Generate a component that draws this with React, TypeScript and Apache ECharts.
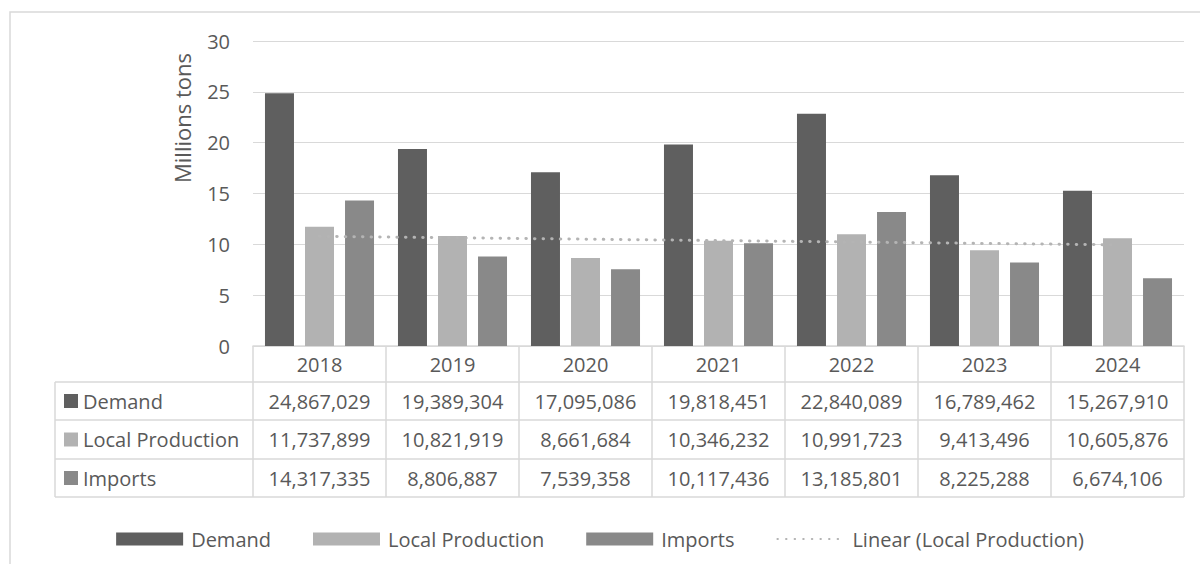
import React, { useEffect, useRef } from 'react';
import * as echarts from 'echarts';

const years = ['2018', '2019', '2020', '2021', '2022', '2023', '2024'];
const demand = [24867029, 19389304, 17095086, 19818451, 22840089, 16789462, 15267910];
const localProduction = [11737899, 10821919, 8661684, 10346232, 10991723, 9413496, 10605876];
const imports = [14317335, 8806887, 7539358, 10117436, 13185801, 8225288, 6674106];
const seriesNames = ['Demand', 'Local Production', 'Imports'];
const trendName = 'Linear (Local Production)';
const yAxisTitle = 'Millions tons';
const yMin = 0;
const yMax = 30;
const yInterval = 5;

const colors = ['#5f5f5f', '#b2b2b2', '#898989'];
const textColor = '#595959';
const lineColor = '#d9d9d9';
const font = "'Open Sans', sans-serif";

function linearTrend(values: number[]): number[] {
  const n = values.length;
  const xs = values.map((_, i) => i + 1);
  const mx = xs.reduce((a, b) => a + b, 0) / n;
  const my = values.reduce((a, b) => a + b, 0) / n;
  let sxy = 0;
  let sxx = 0;
  for (let i = 0; i < n; i++) {
    sxy += (xs[i] - mx) * (values[i] - my);
    sxx += (xs[i] - mx) * (xs[i] - mx);
  }
  const slope = sxy / sxx;
  return xs.map((x) => my + slope * (x - mx));
}

const fmt = (v: number) => v.toLocaleString('en-US');
const toM = (v: number) => v / 1e6;

export default function App() {
  const ref = useRef<HTMLDivElement>(null);

  useEffect(() => {
    if (!ref.current) return;
    const chart = echarts.init(ref.current, undefined, { renderer: 'svg' });

    const W = 1200;
    const H = 564;
    const gridLeft = 253;
    const gridRightX = 1184;
    const gridTop = 41;
    const axisY = 346;
    const colW = (gridRightX - gridLeft) / years.length;
    const tableLeft = 55;
    const rowLines = [382, 420, 459, 497];

    const rows = [demand, localProduction, imports];
    const graphics: any[] = [];

    // outer chart border
    graphics.push({
      type: 'rect',
      shape: { x: 10, y: 12, width: 1400, height: 800 },
      style: { fill: 'none', stroke: lineColor, lineWidth: 1.5 },
      silent: true,
    });

    // table horizontal lines
    rowLines.forEach((y) => {
      graphics.push({
        type: 'line',
        shape: { x1: tableLeft, y1: y, x2: gridRightX, y2: y },
        style: { stroke: lineColor, lineWidth: 1.5 },
        silent: true,
      });
    });
    // table vertical lines
    graphics.push({
      type: 'line',
      shape: { x1: tableLeft, y1: rowLines[0], x2: tableLeft, y2: rowLines[3] },
      style: { stroke: lineColor, lineWidth: 1.5 },
      silent: true,
    });
    for (let k = 0; k <= years.length; k++) {
      const x = gridLeft + k * colW;
      graphics.push({
        type: 'line',
        shape: { x1: x, y1: axisY, x2: x, y2: rowLines[3] },
        style: { stroke: lineColor, lineWidth: 1.5 },
        silent: true,
      });
    }

    // row labels and values
    rows.forEach((vals, r) => {
      const cy = (rowLines[r] + rowLines[r + 1]) / 2;
      graphics.push({
        type: 'rect',
        shape: { x: 64, y: cy - 7, width: 14, height: 14 },
        style: { fill: colors[r] },
        silent: true,
      });
      graphics.push({
        type: 'text',
        x: 83,
        y: cy,
        style: {
          text: seriesNames[r],
          fill: textColor,
          font: `20px ${font}`,
          textAlign: 'left',
          textVerticalAlign: 'middle',
        },
        silent: true,
      });
      vals.forEach((v, i) => {
        graphics.push({
          type: 'text',
          x: gridLeft + (i + 0.5) * colW,
          y: cy,
          style: {
            text: fmt(v),
            fill: textColor,
            font: `20px ${font}`,
            textAlign: 'center',
            textVerticalAlign: 'middle',
          },
          silent: true,
        });
      });
    });

    // y axis title
    graphics.push({
      type: 'text',
      x: 182,
      y: 118,
      rotation: Math.PI / 2,
      style: {
        text: yAxisTitle,
        fill: textColor,
        font: `22px ${font}`,
        textAlign: 'center',
        textVerticalAlign: 'middle',
      },
      silent: true,
    });

    const barBase = {
      type: 'bar',
      barWidth: 29,
      barGap: '38%',
      z: 2,
    };

    const option: any = {
      animation: false,
      textStyle: { fontFamily: font },
      grid: {
        left: gridLeft,
        right: W - gridRightX,
        top: gridTop,
        bottom: H - axisY,
        containLabel: false,
      },
      legend: {
        left: 'center',
        top: 524,
        itemWidth: 67,
        itemHeight: 13,
        itemGap: 42,
        itemStyle: { borderWidth: 0 },
        textStyle: { fontSize: 20, color: textColor, fontFamily: font, padding: [0, 0, 0, 3] },
        data: [
          { name: seriesNames[0], icon: 'rect' },
          { name: seriesNames[1], icon: 'rect' },
          { name: seriesNames[2], icon: 'rect' },
          { name: trendName, itemStyle: { opacity: 0 } },
        ],
      },
      xAxis: {
        type: 'category',
        data: years,
        axisLine: { show: true, lineStyle: { color: lineColor, width: 1.5 } },
        axisTick: { show: false },
        axisLabel: { color: textColor, fontSize: 20, margin: 8, fontFamily: font },
      },
      yAxis: {
        type: 'value',
        min: yMin,
        max: yMax,
        interval: yInterval,
        axisLine: { show: false },
        axisTick: { show: false },
        axisLabel: { color: textColor, fontSize: 20, margin: 23, fontFamily: font },
        splitLine: { lineStyle: { color: lineColor, width: 1.2 } },
      },
      series: [
        { ...barBase, name: seriesNames[0], data: demand.map(toM), itemStyle: { color: colors[0] } },
        { ...barBase, name: seriesNames[1], data: localProduction.map(toM), itemStyle: { color: colors[1] } },
        { ...barBase, name: seriesNames[2], data: imports.map(toM), itemStyle: { color: colors[2] } },
        {
          type: 'line',
          name: trendName,
          data: linearTrend(localProduction.map(toM)),
          symbol: 'none',
          z: 5,
          lineStyle: { color: '#b4b4b4', width: 3, type: [0.5, 8.1], cap: 'round' },
          itemStyle: { color: '#b4b4b4' },
        },
      ],
      graphic: graphics,
    };

    chart.setOption(option);
    return () => chart.dispose();
  }, []);

  return (
    <div
      ref={ref}
      style={{ position: 'absolute', left: 0, top: 0, width: 1200, height: 564, background: '#fff' }}
    />
  );
}
